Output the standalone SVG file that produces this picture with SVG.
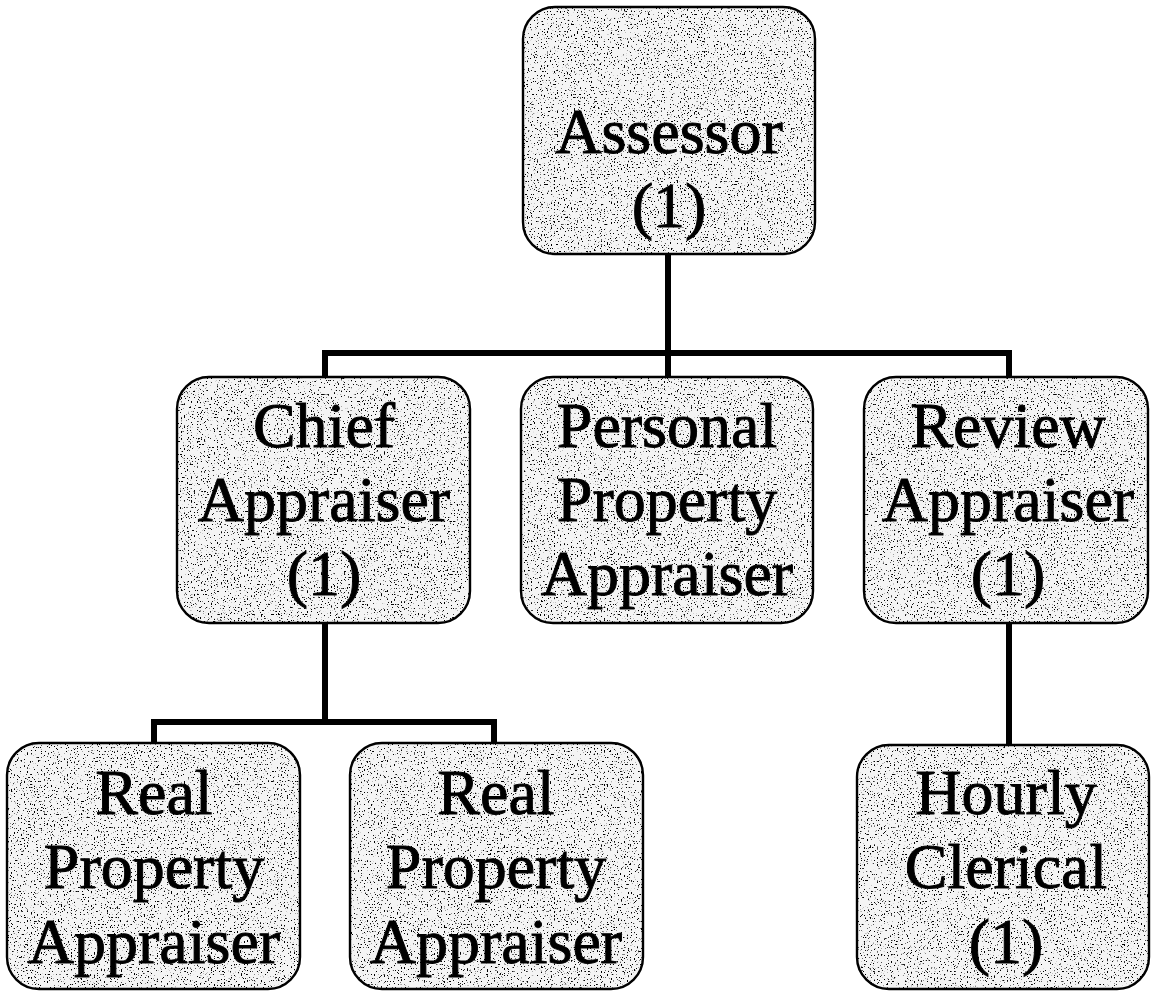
<svg xmlns="http://www.w3.org/2000/svg" width="1151" height="991" viewBox="0 0 1151 991">
  <defs>
    <!-- speckled grey texture used inside every box -->
    <filter id="grain" x="0" y="0" width="100%" height="100%" filterUnits="objectBoundingBox">
      <feTurbulence type="fractalNoise" baseFrequency="0.7" numOctaves="1" seed="7" result="noise"/>
      <feColorMatrix in="noise" type="matrix" values="0 0 0 0 0  0 0 0 0 0  0 0 0 0 0  16 0 0 0 -9.9" result="dots"/>
      <feComposite in="dots" in2="SourceGraphic" operator="in"/>
    </filter>
  </defs>
  <style>
    .bg { fill: #ffffff; }
    .box { fill: #f4f4f4; stroke: none; }
    .tex { fill: #000000; filter: url(#grain); }
    .edge { fill: none; stroke: #000000; stroke-width: 2.4; }
    .lbl { font-family: "Liberation Serif", "Times New Roman", serif; font-size: 64px; fill: #000000; stroke: #000000; stroke-width: 0.9; text-anchor: middle; }
    .wire { fill: none; stroke: #000000; stroke-width: 6; stroke-linecap: square; stroke-linejoin: miter; }
  </style>

  <rect class="bg" x="0" y="0" width="1151" height="991"/>

  <!-- connectors -->
  <g id="connectors">
    <path class="wire" d="M668 256 V353"/>
    <path class="wire" d="M325 375 V353 H1009 V375"/>
    <path class="wire" d="M668 353 V375"/>
    <path class="wire" d="M325 624 V722"/>
    <path class="wire" d="M154 741 V722 H494 V741"/>
    <path class="wire" d="M1009 624 V743"/>
  </g>

  <g id="assessor">
    <rect class="box" x="523" y="7" width="292" height="247" rx="32"/>
    <rect class="tex" x="523" y="7" width="292" height="247" rx="32"/>
    <rect class="edge" x="523" y="7" width="292" height="247" rx="32"/>
    <text class="lbl" x="669" y="153">Assessor</text>
    <text class="lbl" x="669" y="227">(1)</text>
  </g>

  <g id="chief-appraiser">
    <rect class="box" x="177" y="377" width="293" height="246" rx="32"/>
    <rect class="tex" x="177" y="377" width="293" height="246" rx="32"/>
    <rect class="edge" x="177" y="377" width="293" height="246" rx="32"/>
    <text class="lbl" x="324" y="447">Chief</text>
    <text class="lbl" x="324" y="521">Appraiser</text>
    <text class="lbl" x="324" y="595">(1)</text>
  </g>

  <g id="personal-property-appraiser">
    <rect class="box" x="521" y="377" width="292" height="246" rx="32"/>
    <rect class="tex" x="521" y="377" width="292" height="246" rx="32"/>
    <rect class="edge" x="521" y="377" width="292" height="246" rx="32"/>
    <text class="lbl" x="667" y="447">Personal</text>
    <text class="lbl" x="667" y="521">Property</text>
    <text class="lbl" x="667" y="595">Appraiser</text>
  </g>

  <g id="review-appraiser">
    <rect class="box" x="864" y="377" width="284" height="246" rx="32"/>
    <rect class="tex" x="864" y="377" width="284" height="246" rx="32"/>
    <rect class="edge" x="864" y="377" width="284" height="246" rx="32"/>
    <text class="lbl" x="1008" y="447">Review</text>
    <text class="lbl" x="1008" y="521">Appraiser</text>
    <text class="lbl" x="1008" y="595">(1)</text>
  </g>

  <g id="real-property-appraiser-1">
    <rect class="box" x="7" y="743" width="293" height="246" rx="32"/>
    <rect class="tex" x="7" y="743" width="293" height="246" rx="32"/>
    <rect class="edge" x="7" y="743" width="293" height="246" rx="32"/>
    <text class="lbl" x="154" y="814">Real</text>
    <text class="lbl" x="154" y="888">Property</text>
    <text class="lbl" x="154" y="963">Appraiser</text>
  </g>

  <g id="real-property-appraiser-2">
    <rect class="box" x="350" y="743" width="293" height="246" rx="32"/>
    <rect class="tex" x="350" y="743" width="293" height="246" rx="32"/>
    <rect class="edge" x="350" y="743" width="293" height="246" rx="32"/>
    <text class="lbl" x="496" y="814">Real</text>
    <text class="lbl" x="496" y="888">Property</text>
    <text class="lbl" x="496" y="963">Appraiser</text>
  </g>

  <g id="hourly-clerical">
    <rect class="box" x="857" y="745" width="292" height="244" rx="32"/>
    <rect class="tex" x="857" y="745" width="292" height="244" rx="32"/>
    <rect class="edge" x="857" y="745" width="292" height="244" rx="32"/>
    <text class="lbl" x="1006" y="814">Hourly</text>
    <text class="lbl" x="1006" y="888">Clerical</text>
    <text class="lbl" x="1006" y="963">(1)</text>
  </g>
</svg>
